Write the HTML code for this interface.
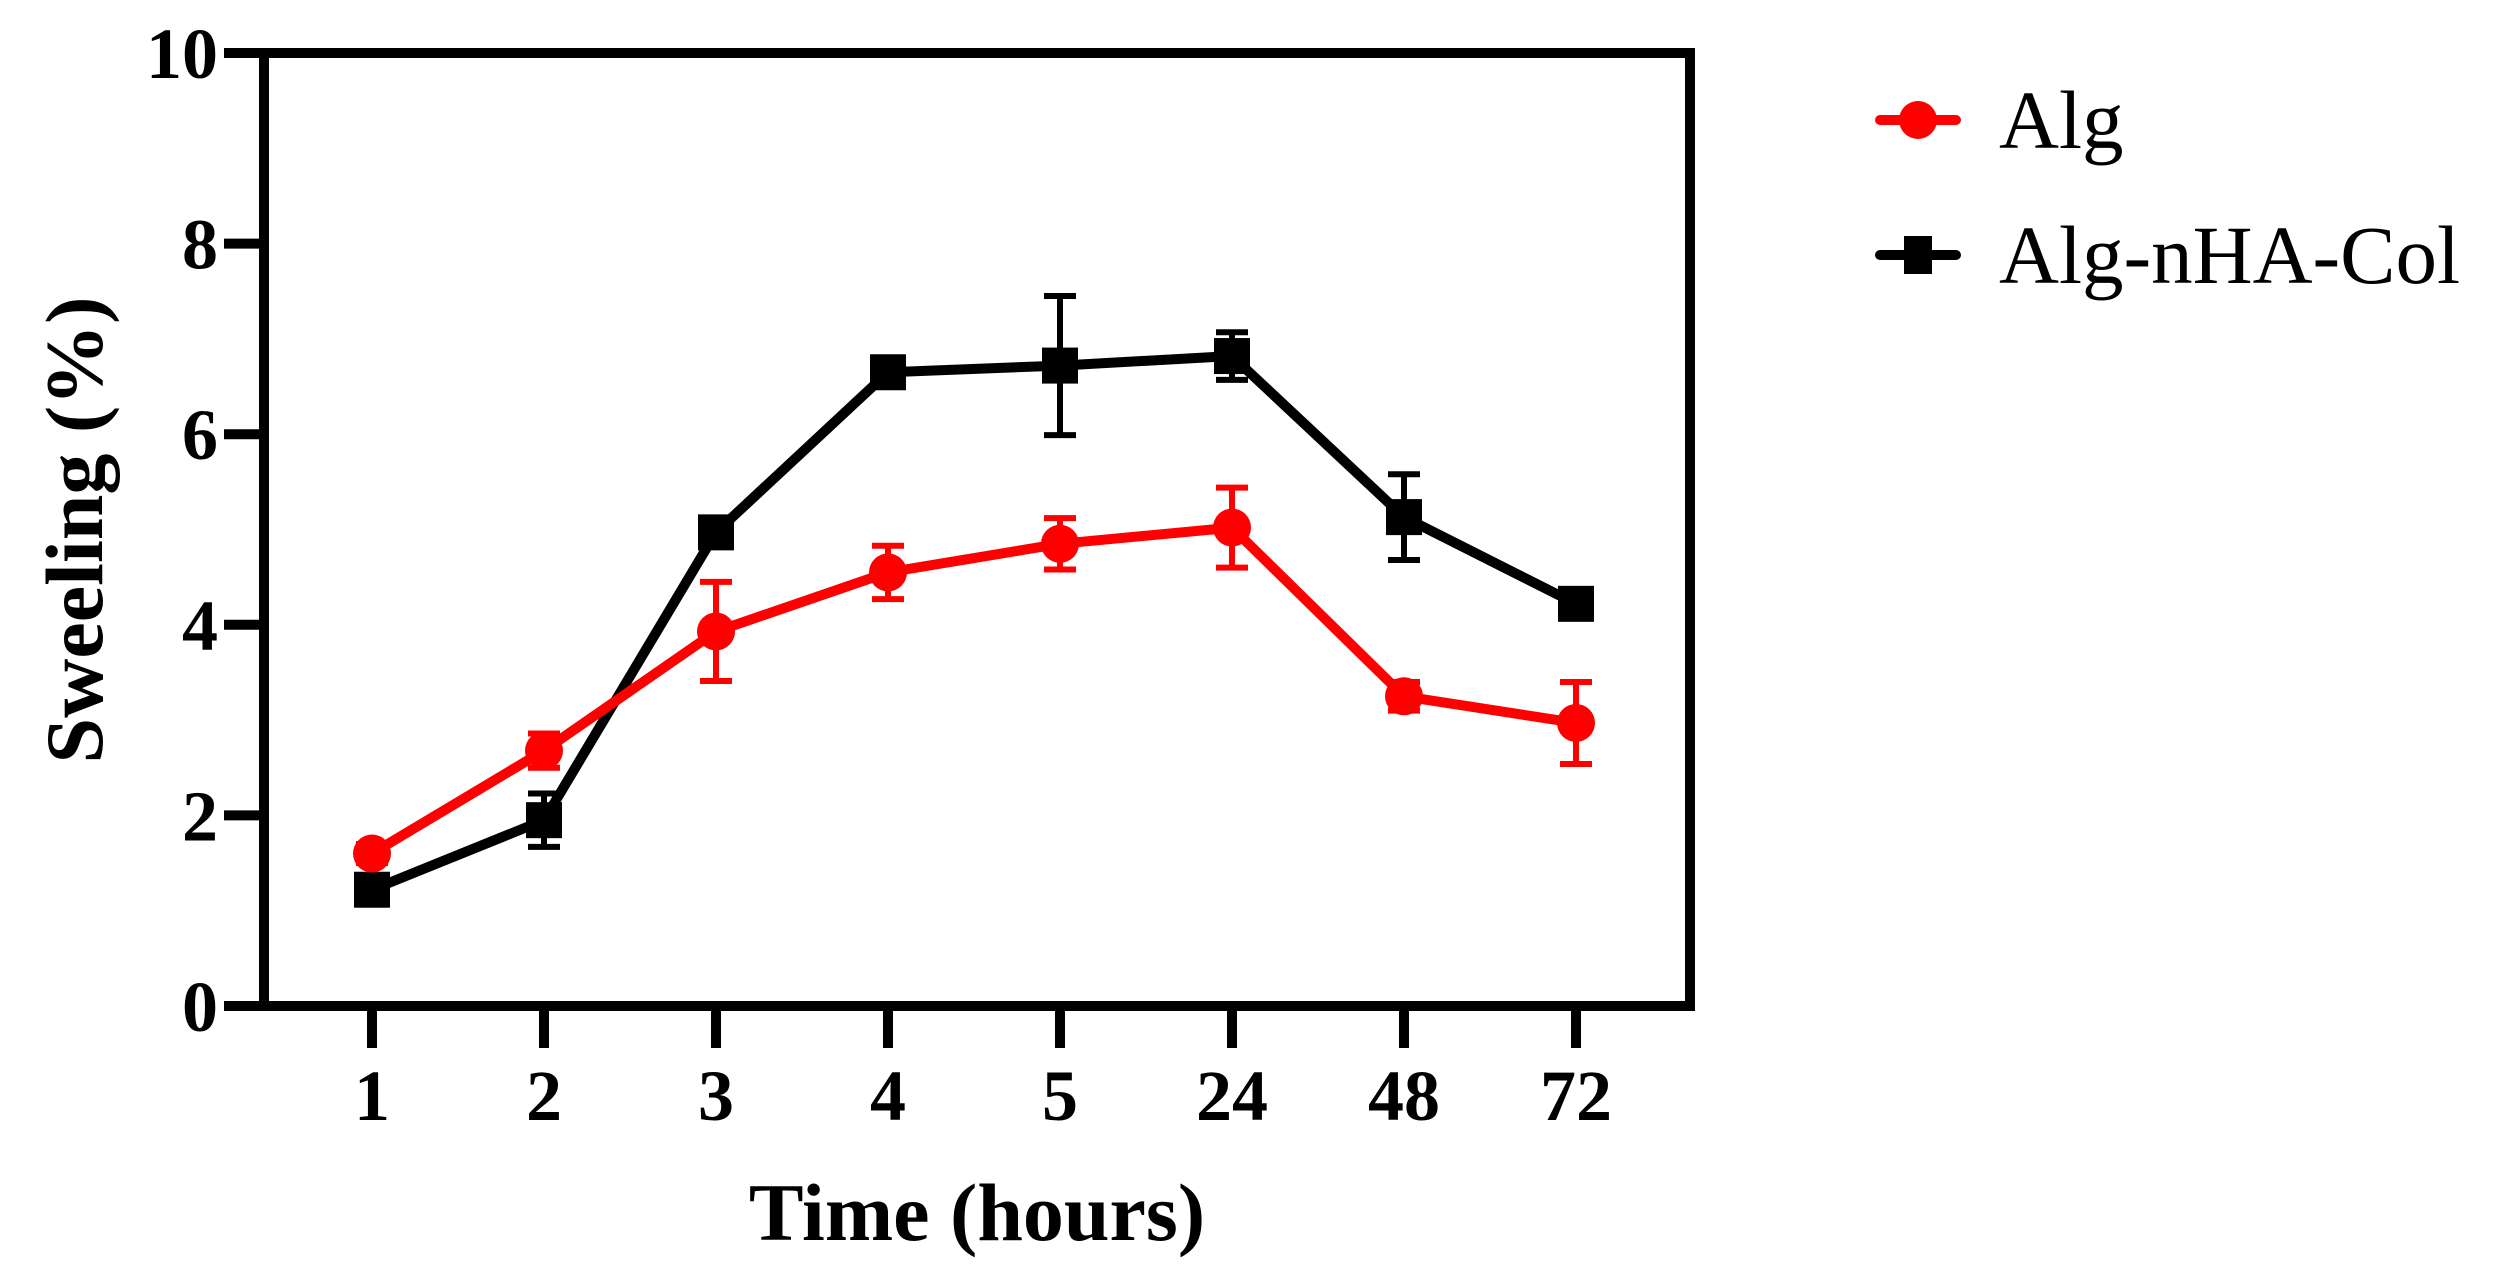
<!DOCTYPE html>
<html><head><meta charset="utf-8"><style>
html,body{margin:0;padding:0;background:#fff;}
svg{display:block;}
text{font-family:"Liberation Serif",serif;}
</style></head><body>
<svg id="chart" width="2502" height="1279" viewBox="0 0 2502 1279">
<g id="plot"></g>
<g id="legend"></g>
</svg>
<script>
const categories = ["1","2","3","4","5","24","48","72"];
const algValues = [1.6, 2.68, 3.93, 4.55, 4.85, 5.02, 3.25, 2.97];
const algErrors = [0.1, 0.18, 0.52, 0.28, 0.27, 0.42, 0.15, 0.43];
const colValues = [1.22, 1.95, 4.97, 6.65, 6.72, 6.82, 5.13, 4.22];
const colErrors = [0.1, 0.28, 0.1, 0.1, 0.73, 0.25, 0.45, 0.1];
const yTicks = [0, 2, 4, 6, 8, 10];

const NS = "http://www.w3.org/2000/svg";
const L = 264, R = 1690, T = 53, B = 1006;
const x0 = 372, dx = 172;
function xS(i){ return x0 + i*dx; }
function yS(v){ return B - (B - T) * v / 10; }
function mk(tag, attrs, parent){
  const e = document.createElementNS(NS, tag);
  for (const k in attrs) e.setAttribute(k, attrs[k]);
  parent.appendChild(e); return e;
}
const plot = document.getElementById('plot');
const legend = document.getElementById('legend');

// axes frame
let a = mk('path', {d:`M${L},${T} H${R} V${B} H${L} Z`, fill:'none', stroke:'#000', 'stroke-width':10, 'stroke-linejoin':'miter'}, plot);



yTicks.forEach(v => {
  const t = mk('line', {x1:L-40, x2:L, y1:yS(v), y2:yS(v), stroke:'#000', 'stroke-width':10}, plot);
  
  
  const lb = mk('text', {x:L-46, y:yS(v)+25, 'text-anchor':'end', 'font-size':72, 'font-weight':'bold'}, plot);
  lb.textContent = v;
  
  
});
categories.forEach((c, i) => {
  const t = mk('line', {x1:xS(i), x2:xS(i), y1:B, y2:B+42, stroke:'#000', 'stroke-width':10}, plot);
  
  
  const lb = mk('text', {x:xS(i), y:1120, 'text-anchor':'middle', 'font-size':72, 'font-weight':'bold'}, plot);
  lb.textContent = c;
  
  
});
let xt = mk('text', {x:977, y:1240, 'text-anchor':'middle', 'font-size':82, 'font-weight':'bold'}, plot);
xt.textContent = 'Time (hours)';


let yt = mk('text', {x:0, y:0, 'text-anchor':'middle', 'font-size':82, 'font-weight':'bold', transform:'translate(102,530) rotate(-90)'}, plot);
yt.textContent = 'Sweeling (%)';



function series(vals, errs, color, marker, name){
  const g = mk('g', {}, plot);
  
  
  vals.forEach((v, i) => {
    const top = yS(v + errs[i]), bot = yS(v - errs[i]), x = xS(i);
    const e = mk('path', {d:`M${x},${top} V${bot} M${x-16},${top} H${x+16} M${x-16},${bot} H${x+16}`, stroke:color, 'stroke-width':6, fill:'none'}, g);
    
    
  });
  const pts = vals.map((v, i) => xS(i) + ',' + yS(v)).join(' ');
  const ln = mk('polyline', {points:pts, fill:'none', stroke:color, 'stroke-width':10, 'stroke-linejoin':'round'}, g);
  
  
  vals.forEach((v, i) => {
    let m;
    if (marker === 'circle') m = mk('circle', {cx:xS(i), cy:yS(v), r:19, fill:color}, g);
    else m = mk('rect', {x:xS(i)-18, y:yS(v)-18, width:36, height:36, fill:color}, g);
    
    
  });
}
series(colValues, colErrors, '#000', 'square', 'alg-nha-col');
series(algValues, algErrors, '#ff0000', 'circle', 'alg');

function legendEntry(y, color, marker, label, name){
  const g = mk('g', {}, legend);
  
  
  mk('line', {x1:1880, x2:1956, y1:y, y2:y, stroke:color, 'stroke-width':10, 'stroke-linecap':'round'}, g);
  if (marker === 'circle') mk('circle', {cx:1918, cy:y, r:19, fill:color}, g);
  else mk('rect', {x:1904, y:y-19, width:28, height:38, fill:color}, g);
  const t = mk('text', {x:1999, y:y+28, 'font-size':83}, g);
  t.textContent = label;
}
legendEntry(120, '#ff0000', 'circle', 'Alg', 'alg');
legendEntry(255, '#000', 'square', 'Alg-nHA-Col', 'alg-nha-col');
</script>
</body></html>
